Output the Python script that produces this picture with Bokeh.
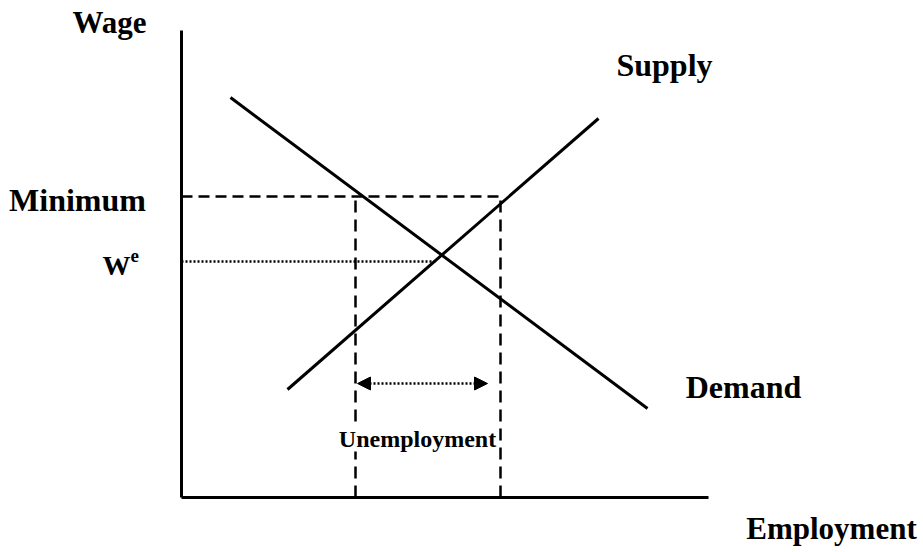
from bokeh.plotting import figure
from bokeh.models import Range1d, Arrow, NormalHead
from bokeh.core.properties import value
from bokeh.embed import file_html
from bokeh.resources import INLINE

# Diagram data (employment on x, wage on y; origin at the axes corner)
axis_top = 467
axis_right = 527
supply_emp = [106, 417]
supply_wage = [108, 379]
demand_emp = [49, 466]
demand_wage = [400, 89]
min_wage = 301
eq_wage = 236
eq_emp = 254
qd_at_min = 174   # quantity demanded at minimum wage
qs_at_min = 319   # quantity supplied at minimum wage
arrow_wage = 114
arrow_from = 176
arrow_to = 306

labels = ["Wage", "Supply", "Minimum", "Demand", "Unemployment", "Employment"]

FONT = value("Liberation Serif")

p = figure(width=923, height=552, output_backend="svg", toolbar_location=None,
           x_range=Range1d(-181, 742), y_range=Range1d(-55, 497),
           x_axis_location=None, y_axis_location=None, min_border=0)
p.grid.visible = False
p.outline_line_color = None
p.background_fill_color = "white"

# axes
p.line([0, 0], [0, axis_top], line_color="black", line_width=3)
p.line([0, axis_right], [0, 0], line_color="black", line_width=3)

# supply & demand
p.line(supply_emp, supply_wage, line_color="black", line_width=3)
p.line(demand_emp, demand_wage, line_color="black", line_width=3)

# minimum wage dashed
p.line([0, qs_at_min], [min_wage, min_wage], line_color="black", line_width=2.5, line_dash="11 6")
# equilibrium dotted
p.line([0, eq_emp], [eq_wage, eq_wage], line_color="black", line_width=2.5, line_dash="2 2")
# vertical dashed
p.line([qd_at_min, qd_at_min], [0, min_wage], line_color="black", line_width=2.5, line_dash="12 7")
p.line([qs_at_min, qs_at_min], [0, min_wage], line_color="black", line_width=2.5, line_dash="12 7")

# unemployment arrow
p.add_layout(Arrow(x_start=arrow_from + 8, y_start=arrow_wage, x_end=arrow_to - 8, y_end=arrow_wage,
                   line_color="black", line_width=2.5, line_dash="2 2",
                   start=NormalHead(size=1, line_color="black", fill_color="black"),
                   end=NormalHead(size=1, line_color="black", fill_color="black")))
p.add_layout(Arrow(x_start=arrow_from + 10, y_start=arrow_wage, x_end=arrow_from, y_end=arrow_wage,
                   line_color="black", line_width=0,
                   end=NormalHead(size=13, line_color="black", fill_color="black")))
p.add_layout(Arrow(x_start=arrow_to - 10, y_start=arrow_wage, x_end=arrow_to, y_end=arrow_wage,
                   line_color="black", line_width=0,
                   end=NormalHead(size=13, line_color="black", fill_color="black")))

# labels
lx = [-72, 483, -104, 562, 236, 650]
ly = [475, 433, 298, 111, 59, -31]
sizes = ["31px", "32px", "32px", "32px", "24px", "31px"]
for t, x, y, s in zip(labels, lx, ly, sizes):
    bg = "white" if t == "Unemployment" else None
    p.text([x], [y], text=[t], text_font=FONT, text_font_style="bold",
           text_font_size=s, text_align="center", text_baseline="middle", text_color="black",
           background_fill_color=bg)

# W^e
p.text([-51], [232], text=["W"], text_font=FONT, text_font_style="bold",
       text_font_size="28px", text_align="right", text_baseline="middle")
p.text([-51], [242], text=["e"], text_font=FONT, text_font_style="bold",
       text_font_size="19px", text_align="left", text_baseline="middle")

open("out.html", "w").write(file_html(p, INLINE))
